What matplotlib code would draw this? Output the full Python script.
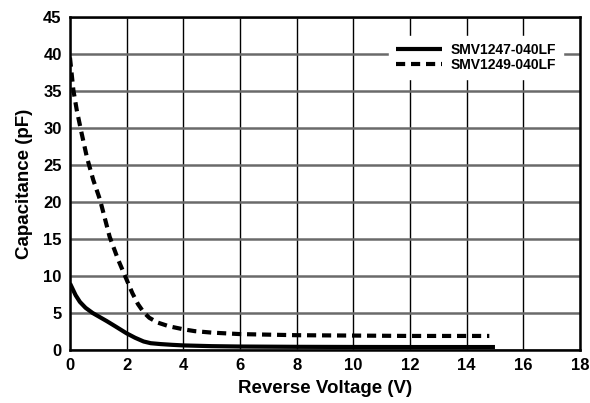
import matplotlib
matplotlib.use('Agg')
import matplotlib.pyplot as plt
import numpy as np

plt.rcParams['font.family'] = ['Liberation Sans', 'DejaVu Sans']
plt.rcParams['font.weight'] = 'bold'

# SMV1247-040LF (solid)
v1 = [0, 0.2, 0.35, 0.55, 0.8, 1.05, 1.3, 1.6, 2.0, 2.3, 2.6, 2.85, 3.2, 3.6, 4.0, 5.0, 6.0, 8.0, 10.0, 12.0, 15.0]
c1 = [9.0, 7.4, 6.5, 5.7, 5.0, 4.45, 3.9, 3.2, 2.25, 1.65, 1.15, 0.92, 0.8, 0.7, 0.62, 0.52, 0.47, 0.43, 0.41, 0.4, 0.4]
# SMV1249-040LF (dashed)
v2 = [0, 0.12, 0.24, 0.41, 0.6, 0.82, 1.06, 1.4, 1.7, 2.0, 2.2, 2.4, 2.6, 2.8, 3.1, 3.5, 4.0, 4.4, 5.0, 6.0, 8.0, 10.0, 12.0, 14.8]
c2 = [39.5, 35.1, 32.4, 29.3, 26.0, 23.0, 20.3, 15.3, 12.2, 9.5, 7.7, 6.2, 5.1, 4.35, 3.7, 3.2, 2.8, 2.55, 2.35, 2.15, 2.0, 1.95, 1.9, 1.9]

labels = ['SMV1247-040LF', 'SMV1249-040LF']

fig = plt.figure(figsize=(5.9, 4.03), dpi=100)
ax = fig.add_axes([0.1186, 0.1315, 0.8644, 0.8265])

ax.plot(v1, c1, color='black', lw=3.0, solid_capstyle='butt', solid_joinstyle='round',
        label=labels[0], zorder=3)
ax.plot(v2, c2, color='black', lw=3.0, dashes=(2.2, 1.4), dash_joinstyle='round',
        label=labels[1], zorder=3)

ax.set_xlim(0, 18)
ax.set_ylim(0, 45)
ax.set_xticks(np.arange(0, 19, 2))
ax.set_yticks(np.arange(0, 46, 5))
ax.tick_params(length=0, labelsize=12, pad=6)
for lab in ax.get_xticklabels() + ax.get_yticklabels():
    lab.set_fontweight('bold')

ax.xaxis.grid(True, color='black', lw=1.0)
ax.yaxis.grid(True, color='#6a6a6a', lw=1.8)
ax.set_axisbelow(True)
for s in ax.spines.values():
    s.set_linewidth(1.8)
    s.set_color('black')

ax.set_xlabel('Reverse Voltage (V)', fontsize=13.5, fontweight='bold', labelpad=5)
ax.set_ylabel('Capacitance (pF)', fontsize=13.5, fontweight='bold', labelpad=7)

leg = ax.legend(loc='upper right', bbox_to_anchor=(0.98, 0.963), frameon=True,
                fancybox=False, edgecolor='white', framealpha=1.0,
                handlelength=3.3, fontsize=10, borderpad=0.5, labelspacing=0.05,
                handletextpad=0.6)
for t in leg.get_texts():
    t.set_fontweight('bold')

fig.savefig('out.png', dpi=100)
